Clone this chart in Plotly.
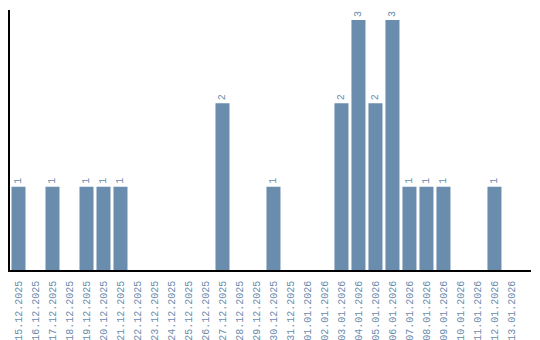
import plotly.graph_objects as go

dates = ["15.12.2025","16.12.2025","17.12.2025","18.12.2025","19.12.2025","20.12.2025",
         "21.12.2025","22.12.2025","23.12.2025","24.12.2025","25.12.2025","26.12.2025",
         "27.12.2025","28.12.2025","29.12.2025","30.12.2025","31.12.2025","01.01.2026",
         "02.01.2026","03.01.2026","04.01.2026","05.01.2026","06.01.2026","07.01.2026",
         "08.01.2026","09.01.2026","10.01.2026","11.01.2026","12.01.2026","13.01.2026"]
counts = [1,0,1,0,1,1,1,0,0,0,0,0,2,0,0,1,0,0,0,2,3,2,3,1,1,1,0,0,1,0]

color = "#6a8cad"
labels = [str(c) if c > 0 else "" for c in counts]
fnt = dict(family="Liberation Mono", size=10, color=color)

fig = go.Figure(go.Bar(
    x=dates, y=counts, marker_color=color, marker_line_width=0,
    text=labels, textposition="outside", textangle=-90, cliponaxis=False,
    textfont=fnt,
))
fig.update_layout(
    width=540, height=340, margin=dict(l=10, r=9, t=10, b=70, autoexpand=False),
    plot_bgcolor="white", paper_bgcolor="white", bargap=0.176, showlegend=False,
    font=fnt,
)
fig.update_xaxes(type="category", range=[-0.5, 30.15], tickangle=-90, showline=True,
                 linecolor="black", linewidth=1.5,
                 showgrid=False, ticks="outside", ticklen=5, tickcolor="rgba(0,0,0,0)",
                 automargin=False, tickfont=fnt)
fig.update_yaxes(range=[0, 3.12], showline=True, linecolor="black", linewidth=1.5,
                 showgrid=False, showticklabels=False, zeroline=False, ticks="", automargin=False)
fig.write_html("out.html")
